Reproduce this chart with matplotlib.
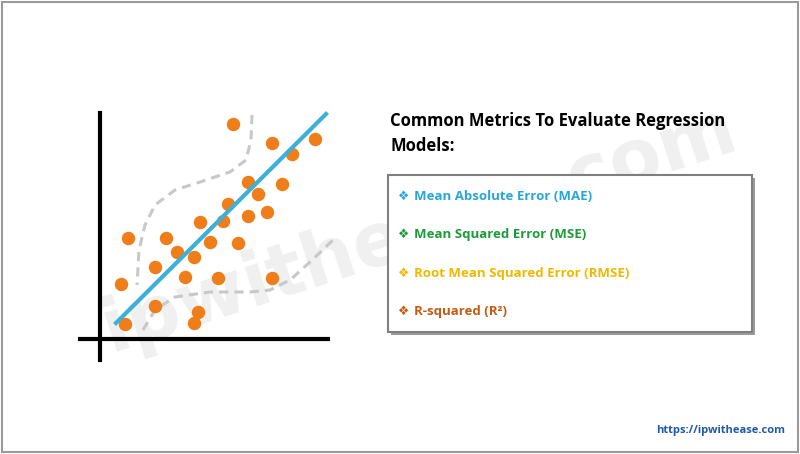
import numpy as np
import matplotlib.pyplot as plt
from matplotlib.patches import Rectangle

# scatter points (pixel coords of the illustration)
pts_x = [233, 272, 315, 292, 248, 282, 258, 228, 267, 248, 200, 223, 128, 166,
         210, 238, 177, 194, 155, 185, 218, 272, 121, 155, 198, 125, 194]
pts_y = [124, 143, 139, 154, 182, 184, 194, 204, 212, 216, 222, 221, 238, 238,
         242, 243, 252, 257, 267, 277, 278, 278, 284, 306, 312, 324, 323]
fit_x = [116, 326]
fit_y = [323, 114]
upper_x = [252, 251, 246, 230, 200, 175, 155, 145, 139, 137]
upper_y = [115, 140, 160, 172, 182, 190, 205, 225, 250, 285]
lower_x = [143, 155, 175, 210, 250, 270, 290, 310, 333]
lower_y = [330, 310, 297, 292, 292, 290, 280, 262, 240]

metrics = ["Mean Absolute Error (MAE)", "Mean Squared Error (MSE)",
           "Root Mean Squared Error (RMSE)", "R-squared (R²)"]
metric_colors = ["#2aa6d6", "#1f9a3a", "#f2b800", "#c55a11"]

fig = plt.figure(figsize=(8, 4.54), dpi=100)
ax = fig.add_axes([0, 0, 1, 1])
ax.set_xlim(0, 800)
ax.set_ylim(454, 0)
ax.axis("off")

ax.add_patch(Rectangle((2, 2), 796, 450, fill=False, ec="#9a9a9a", lw=1.5))

ax.text(420, 230, "ipwithease.com", fontsize=54, color="#f0f0f0", rotation=18,
        ha="center", va="center", fontweight="bold", zorder=0)

ax.plot([100, 100], [113, 360], color="black", lw=3)
ax.plot([80, 328], [339, 339], color="black", lw=3)
ax.plot(upper_x, upper_y, ls=(0, (3, 2)), color="#c8c8c8", lw=2.2)
ax.plot(lower_x, lower_y, ls=(0, (3, 2)), color="#c8c8c8", lw=2.2)
ax.scatter(pts_x, pts_y, s=75, color="#ee7d1a", zorder=3)
ax.plot(fit_x, fit_y, color="#3bb0d8", lw=3, zorder=4)

ax.text(390, 121, "Common Metrics To Evaluate Regression", fontsize=12,
        fontweight="bold", va="center", family="Open Sans", zorder=5)
ax.text(390, 146, "Models:", fontsize=12, fontweight="bold", va="center",
        family="Open Sans", zorder=5)

ax.add_patch(Rectangle((391, 178), 364, 157, fc="#9a9a9a", ec="none", zorder=5))
ax.add_patch(Rectangle((388, 175), 364, 157, fc="white", ec="#7f7f7f", lw=1.5, zorder=5))
for i, (m, c) in enumerate(zip(metrics, metric_colors)):
    y = 196 + i * 38.5
    ax.text(398, y, "❖", fontsize=9, color=c, va="center", family="DejaVu Sans", zorder=6)
    ax.text(414, y, m, fontsize=9.5, color=c, va="center", fontweight="bold",
            family="Open Sans", zorder=6)

ax.text(785, 430, "https://ipwithease.com", fontsize=8, color="#1f5aa6",
        ha="right", va="center", fontweight="bold", family="Open Sans")

fig.savefig("out.png")
